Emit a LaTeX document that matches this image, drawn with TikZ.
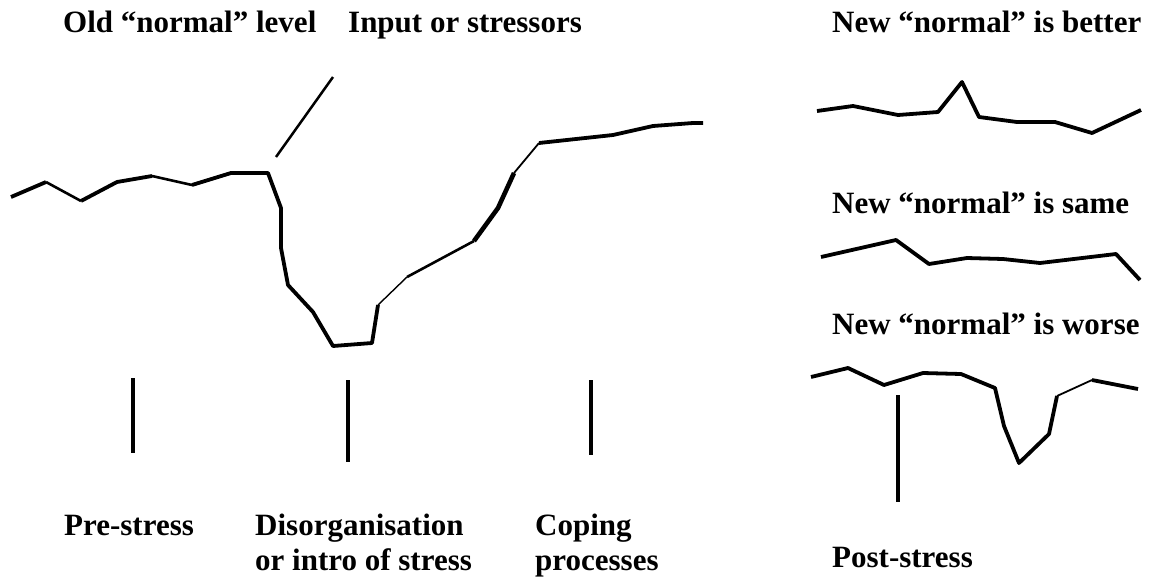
\documentclass[tikz,border=0pt]{standalone}
\usepackage{fontspec}
\setmainfont{Liberation Serif}
\usepackage{tikz}
\usetikzlibrary{positioning}

\tikzset{
	lbl/.style = {font=\fontsize{31}{35}\selectfont\bfseries, inner sep=0pt, anchor=base west},
	trace/.style = {line width=3.8pt, line join=round},
	faint/.style = {line width=1.8pt, line join=round},
	heavy/.style = {line width=4.6pt, line join=round},
	tick/.style = {line width=3.5pt}
}

\begin{document}
\begin{tikzpicture}[x=1pt, y=-1pt]
	\useasboundingbox (0,0) rectangle (1149,579);
	
	% headings
	\node[lbl] (old) at (63,32) {Old ``normal'' level};
	\node[lbl] (input) at (348,32) {Input or stressors};
	\node[lbl] (better) at (832,32) {New ``normal'' is better};
	\node[lbl] (same) at (832,213) {New ``normal'' is same};
	\node[lbl] (worse) at (832,334) {New ``normal'' is worse};
	
	% phases
	\node[lbl] (pre) at (64,535) {Pre-stress};
	\node[lbl] (dis) at (255,535) {Disorganisation};
	\node[lbl, below=35pt of dis.base west, anchor=base west] (intro) {or intro of stress};
	\node[lbl] (coping) at (535,535) {Coping};
	\node[lbl, below=35pt of coping.base west, anchor=base west] (proc) {processes};
	\node[lbl] (post) at (832,567) {Post-stress};
	
	% stressor
	\draw[line width=2.5pt] (276,157) -- (333,77);
	
	% old level, drop and recovery
	\draw[trace] (11,197) -- (46,182);
	\draw[trace, line width=2.6pt] (46,182) -- (81,201);
	\draw[trace] (81,201) -- (117,182) -- (152,176);
	\draw[trace, line width=2.6pt] (152,176) -- (192,185);
	\draw[trace] (192,185) -- (231,173) -- (268,173) -- (281,208) -- (281,248)
		-- (288,285) -- (313,312) -- (333,346) -- (372,343) -- (378,305);
	\draw[faint, line width=1.4pt] (378,305) -- (407,277);
	\draw[trace, line width=2.6pt] (407,277) -- (474,241);
	\draw[heavy] (474,241) -- (498,208) -- (514,173);
	\draw[faint] (514,173) -- (539,143);
	\draw[trace] (539,143) -- (613,135) -- (653,126) -- (693,123) -- (703,123);
	
	% new levels
	\draw[trace] (817,111) -- (853,106) -- (898,115) -- (938,112) -- (962,82)
		-- (979,117) -- (1017,122) -- (1055,122) -- (1092,133) -- (1141,110);
	\draw[trace] (821,257) -- (896,240) -- (929,264) -- (967,258) -- (1003,259)
		-- (1040,263) -- (1116,254) -- (1140,280);
	\draw[trace] (811,377) -- (848,368) -- (884,385) -- (923,373) -- (961,374)
		-- (995,388) -- (1004,426) -- (1019,463) -- (1049,434) -- (1057,396);
	\draw[faint] (1057,396) -- (1092,380);
	\draw[trace] (1092,380) -- (1138,389);
	
	% phase marks
	\draw[tick] (133,378) -- (133,453);
	\draw[tick] (348,380) -- (348,462);
	\draw[tick] (591,380) -- (591,455);
	\draw[tick, line width=4pt] (898,395) -- (898,502);
	
\end{tikzpicture}
\end{document}
